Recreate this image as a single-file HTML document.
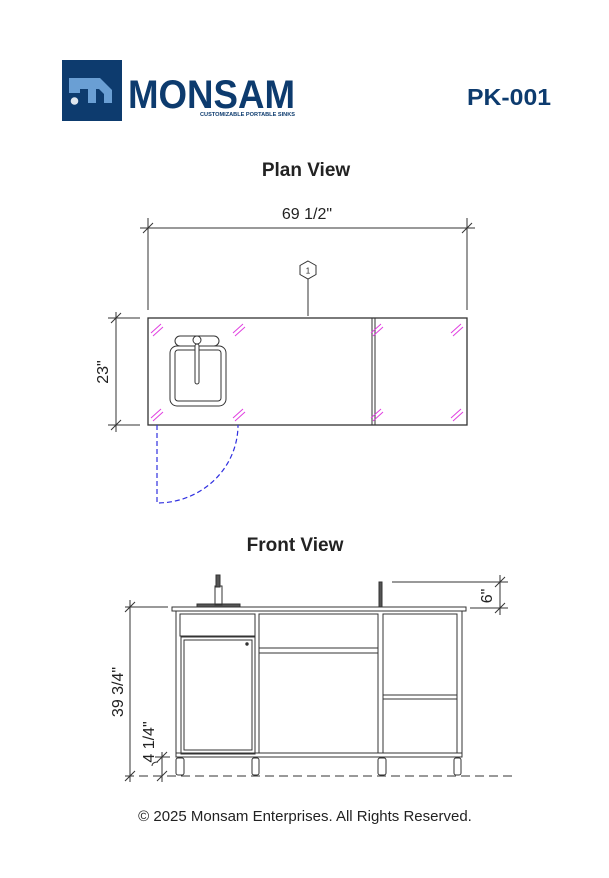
<!DOCTYPE html>
<html><head><meta charset="utf-8"><style>
html,body{margin:0;padding:0;background:#fff;}
svg{display:block;}
text{font-family:"Liberation Sans",sans-serif;}
</style></head><body>
<svg width="609" height="878" viewBox="0 0 609 878" xmlns="http://www.w3.org/2000/svg">
<!-- logo -->
<rect x="62" y="60" width="60" height="61" fill="#0d3b6e"/>
<polygon points="69,78 100,78 112,90 112,103 104,103 104,94 99,89 96,89 96,103 88,103 88,89 80,89 80,93 69,93" fill="#6a9fd4"/>
<circle cx="74.5" cy="101" r="3.8" fill="#dfe6ee"/>
<text x="128" y="108" font-size="40" font-weight="bold" fill="#0d3b6e" textLength="167" lengthAdjust="spacingAndGlyphs">MONSAM</text>
<text x="200" y="116" font-size="5.5" font-weight="bold" fill="#0d3b6e" textLength="95" lengthAdjust="spacingAndGlyphs">CUSTOMIZABLE PORTABLE SINKS</text>
<text x="467" y="105" font-size="23" font-weight="bold" fill="#0d3b6e" textLength="84" lengthAdjust="spacingAndGlyphs">PK-001</text>

<!-- Plan view -->
<text x="306" y="176" font-size="19" font-weight="bold" text-anchor="middle" fill="#222">Plan View</text>
<text x="307" y="219" font-size="16" text-anchor="middle" fill="#222">69 1/2"</text>
<g stroke="#333" stroke-width="1" fill="none">
<line x1="140" y1="228" x2="475" y2="228"/>
<line x1="148" y1="218" x2="148" y2="310"/>
<line x1="467" y1="218" x2="467" y2="310"/>
<line x1="143" y1="233" x2="153" y2="223"/>
<line x1="462" y1="233" x2="472" y2="223"/>
<line x1="308" y1="279" x2="308" y2="316"/>
<polygon points="308,261 316,265.5 316,274.5 308,279 300,274.5 300,265.5"/>
<line x1="108" y1="318" x2="140" y2="318"/>
<line x1="108" y1="425" x2="140" y2="425"/>
<line x1="116" y1="312" x2="116" y2="432"/>
<line x1="111" y1="323" x2="121" y2="313"/>
<line x1="111" y1="430" x2="121" y2="420"/>
</g>
<text x="308" y="273.5" font-size="8" text-anchor="middle" fill="#222">1</text>
<text transform="translate(108,372) rotate(-90)" font-size="16" text-anchor="middle" fill="#222">23"</text>
<g stroke="#333" fill="none">
<rect x="148" y="318" width="319" height="107" stroke-width="1.3"/>
<line x1="372" y1="318" x2="372" y2="425" stroke-width="1"/>
<line x1="375" y1="318" x2="375" y2="425" stroke-width="1"/>
<rect x="175" y="336" width="44" height="10" rx="5"/>
<rect x="170" y="346" width="56" height="60" rx="7"/>
<rect x="175" y="350" width="46" height="51" rx="3"/>
<circle cx="197" cy="340" r="4" fill="#fff"/>
<rect x="195" y="344" width="4" height="40" rx="2" fill="#fff"/>
</g>
<g stroke="#e040e0" stroke-width="1">
<path d="M151,333 L161,324 M153,336 L163,327"/>
<path d="M233,333 L243,324 M235,336 L245,327"/>
<path d="M371,333 L381,324 M373,336 L383,327"/>
<path d="M451,333 L461,324 M453,336 L463,327"/>
<path d="M151,418 L161,409 M153,421 L163,412"/>
<path d="M233,418 L243,409 M235,421 L245,412"/>
<path d="M371,418 L381,409 M373,421 L383,412"/>
<path d="M451,418 L461,409 M453,421 L463,412"/>
</g>
<path d="M157,425 L157,503 A81,78 0 0 0 238,425" stroke="#3030e0" stroke-width="1.2" stroke-dasharray="5,3" fill="none"/>

<!-- Front view -->
<text x="295" y="551" font-size="19" font-weight="bold" text-anchor="middle" fill="#222">Front View</text>
<g stroke="#333" stroke-width="1" fill="none">
<rect x="172" y="607" width="294" height="4" fill="#fff"/>
<rect x="176" y="611" width="286" height="146"/>
<rect x="180" y="614" width="75" height="22"/>
<rect x="181" y="637" width="74" height="117"/>
<rect x="184" y="640" width="68" height="110"/>
<circle cx="247" cy="644" r="1.2" fill="#333"/>
<rect x="259" y="614" width="119" height="34"/>
<rect x="259" y="648" width="119" height="5"/>
<rect x="259" y="653" width="119" height="100"/>
<rect x="383" y="614" width="74" height="81"/>
<rect x="383" y="695" width="74" height="4"/>
<rect x="383" y="699" width="74" height="54"/>
<line x1="176" y1="753" x2="462" y2="753"/>
<rect x="176" y="758" width="8" height="17" rx="2"/>
<rect x="252" y="758" width="7" height="17" rx="2"/>
<rect x="378" y="758" width="8" height="17" rx="2"/>
<rect x="454" y="758" width="7" height="17" rx="2"/>
<rect x="197" y="604" width="43" height="3" fill="#555"/>
<rect x="215" y="586" width="7" height="19"/>
<rect x="216" y="575" width="4" height="12" fill="#555"/>
<rect x="379" y="582" width="3" height="25" fill="#555"/>
<line x1="392" y1="582" x2="508" y2="582"/>
<line x1="470" y1="608" x2="508" y2="608"/>
<line x1="500" y1="575" x2="500" y2="615"/>
<line x1="495" y1="587" x2="505" y2="577"/>
<line x1="495" y1="613" x2="505" y2="603"/>
<line x1="125" y1="607" x2="168" y2="607"/>
<line x1="130" y1="600" x2="130" y2="782"/>
<line x1="125" y1="612" x2="135" y2="602"/>
<line x1="125" y1="781" x2="135" y2="771"/>
<line x1="155" y1="757" x2="170" y2="757"/>
<line x1="162" y1="752" x2="162" y2="782"/>
<line x1="157" y1="762" x2="167" y2="752"/>
<line x1="157" y1="781" x2="167" y2="771"/>
<path d="M152,766 Q152,762 158,762"/>
</g>
<line x1="125" y1="776" x2="515" y2="776" stroke="#333" stroke-width="1" stroke-dasharray="9,5"/>
<text transform="translate(492,596) rotate(-90)" font-size="16" text-anchor="middle" fill="#222">6"</text>
<text transform="translate(123,692) rotate(-90)" font-size="16" text-anchor="middle" fill="#222">39 3/4"</text>
<text transform="translate(154,742) rotate(-90)" font-size="16" text-anchor="middle" fill="#222">4 1/4"</text>

<text x="305" y="821" font-size="15" text-anchor="middle" fill="#222">© 2025 Monsam Enterprises. All Rights Reserved.</text>
</svg>
</body></html>
